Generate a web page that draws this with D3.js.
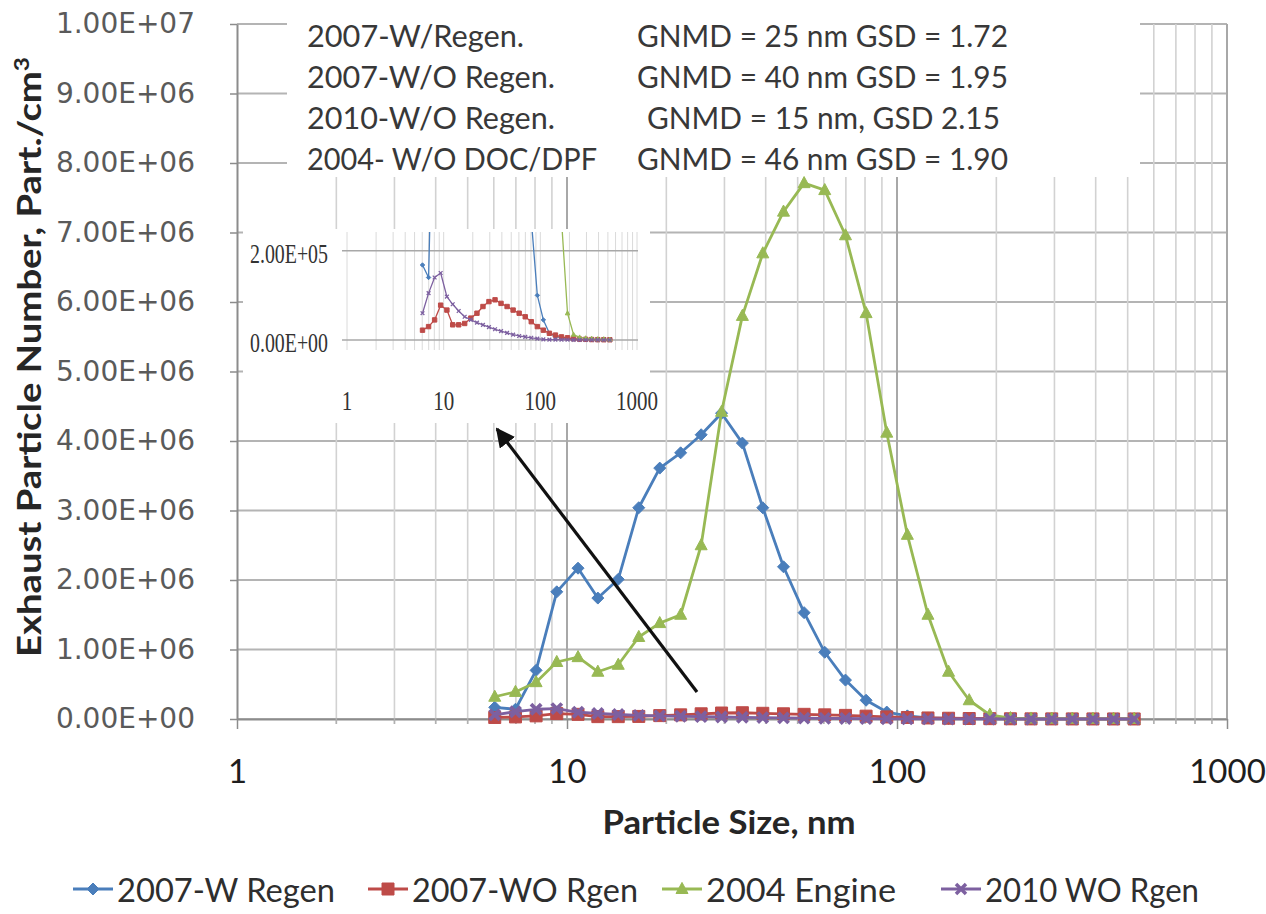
<!DOCTYPE html>
<html>
<head>
<meta charset="utf-8">
<script src="https://cdn.jsdelivr.net/npm/d3@7"></script>
<style>
  body { margin: 0; background: #fff; }
  svg { display: block; }
</style>
</head>
<body>
<svg id="chart" width="1266" height="914"></svg>
<script>
// EEPS channel mid-points, nm
const sizes = [6.04, 6.98, 8.06, 9.31, 10.8, 12.4, 14.3, 16.5, 19.1, 22.1, 25.5, 29.4, 34.0, 39.2, 45.3, 52.3,
  60.4, 69.8, 80.6, 93.1, 107.5, 124.1, 143.3, 165.5, 191.1, 220.7, 254.8, 294.3, 339.8, 392.4, 453.2, 523.3]

// particles / cm3
const wRegen2007 = [1.68e5, 1.40e5, 7.0e5, 1.83e6, 2.17e6, 1.74e6, 2.01e6, 3.04e6, 3.61e6, 3.83e6, 4.09e6, 4.40e6,
  3.97e6, 3.04e6, 2.19e6, 1.53e6, 9.6e5, 5.6e5, 2.7e5, 1.0e5, 4.5e4, 1.5e4, 8e3, 5e3, 3e3, 2e3, 1.5e3, 1e3, 1e3, 8e2, 6e2, 5e2]
const woRgen2007 = [2.2e4, 3.0e4, 4.5e4, 7.8e4, 6.7e4, 3.4e4, 3.4e4, 3.7e4, 4.9e4, 6.0e4, 7.5e4, 8.6e4, 9.0e4,
  8.2e4, 7.5e4, 6.7e4, 6.0e4, 5.2e4, 4.1e4, 3.0e4, 2.2e4, 1.5e4, 1.1e4, 7e3, 5e3, 3e3, 2e3, 1.5e3, 1e3, 8e2, 6e2, 5e2]
const engine2004 = [3.2e5, 3.9e5, 5.3e5, 8.2e5, 8.9e5, 6.8e5, 7.8e5, 1.18e6, 1.38e6, 1.50e6, 2.50e6, 4.42e6, 5.80e6,
  6.70e6, 7.30e6, 7.71e6, 7.61e6, 6.96e6, 5.84e6, 4.12e6, 2.65e6, 1.50e6, 6.8e5, 2.7e5, 6.0e4, 1.2e4, 6e3, 4e3, 3e3, 2e3, 2e3, 1e3]
const woRgen2010 = [6.0e4, 1.05e5, 1.40e5, 1.50e5, 9.7e4, 8.0e4, 6.5e4, 5.2e4, 4.5e4, 3.9e4, 3.4e4, 2.9e4, 2.4e4,
  2.0e4, 1.6e4, 1.2e4, 9e3, 7e3, 5e3, 3e3, 1.5e3, 1e3, 8e2, 6e2, 5e2, 4e2, 3e2, 3e2, 2e2, 2e2, 1e2, 1e2]

const seriesNames = ["2007-W Regen", "2007-WO Rgen", "2004 Engine", "2010 WO Rgen"]
const seriesValues = [wRegen2007, woRgen2007, engine2004, woRgen2010]

const yTickValues = d3.range(0, 11).map((k) => k * 1e6)
const xTickValues = [1, 10, 100, 1000]
const insetYTicks = [0, 2e5]

const annotLabels = ["2007-W/Regen.", "2007-W/O Regen.", "2010-W/O Regen.", "2004- W/O DOC/DPF"]
const annotStats = ["GNMD = 25 nm GSD = 1.72", "GNMD = 40 nm GSD = 1.95", "GNMD = 15 nm, GSD 2.15", "GNMD = 46 nm GSD = 1.90"]

const colors = ["#4A7EBB", "#BE4B48", "#98B954", "#7D60A0"]
const markers = ["diamond", "square", "triangle", "cross"]

const SANS = "Lato, 'Open Sans', 'DejaVu Sans', sans-serif"

const markerPath = {
  diamond: (r) => `M0,${-r}L${r},0L0,${r}L${-r},0Z`,
  square: (r) => `M${-r},${-r}H${r}V${r}H${-r}Z`,
  triangle: (r) => `M0,${-r * 1.1}L${r},${r * 0.75}L${-r},${r * 0.75}Z`,
  cross: (r) => `M${-r},${-r}L${r},${r}M${r},${-r}L${-r},${r}`,
}

function sci(v) {
  if (v === 0) return "0.00E+00"
  const e = Math.floor(Math.log10(v))
  const m = v / Math.pow(10, e)
  return `${m.toFixed(2)}E+${String(e).padStart(2, "0")}`
}

function minorLogTicks(lo, hi) {
  const out = []
  for (let dec = lo; dec < hi; dec *= 10) {
    for (let k = 2; k <= 9; k++) out.push(dec * k)
  }
  return out
}

const svg = d3.select("#chart")
svg.append("rect").attr("width", 1266).attr("height", 914).attr("fill", "#fff")

const x = d3.scaleLog().domain([1, 1000]).range([237, 1227])
const y = d3.scaleLinear().domain([0, 1e7]).range([719, 24])

// ---- main grid
const grid = svg.append("g")
grid.selectAll("line.h")
  .data(yTickValues)
  .join("line")
  .attr("x1", x(1)).attr("x2", x(1000))
  .attr("y1", (d) => y(d)).attr("y2", (d) => y(d))
  .attr("stroke", "#b4b4b4").attr("stroke-width", 2)
grid.selectAll("line.vmin")
  .data(minorLogTicks(1, 1000))
  .join("line")
  .attr("x1", (d) => x(d)).attr("x2", (d) => x(d))
  .attr("y1", y(1e7)).attr("y2", y(0) + 5)
  .attr("stroke", "#d2d2d2").attr("stroke-width", 1.6)
grid.selectAll("line.vmaj")
  .data(xTickValues.slice(1))
  .join("line")
  .attr("x1", (d) => x(d)).attr("x2", (d) => x(d))
  .attr("y1", y(1e7)).attr("y2", y(0))
  .attr("stroke", "#a8a8a8").attr("stroke-width", 2)

// ---- axes
const yAxis = svg.append("g")
  .attr("transform", `translate(${x(1)},0)`)
  .call(d3.axisLeft(y).tickValues(yTickValues).tickFormat(sci).tickSize(7).tickSizeOuter(0).tickPadding(35))
yAxis.select(".domain").attr("stroke", "#8c8c8c").attr("stroke-width", 2)
yAxis.selectAll(".tick line").attr("stroke", "#8c8c8c").attr("stroke-width", 1.5)
yAxis.selectAll(".tick text")
  .attr("font-family", "'DejaVu Sans', Verdana, sans-serif")
  .attr("font-size", 28)
  .attr("fill", "#5a5a5a")

const xAxis = svg.append("g")
  .attr("transform", `translate(0,${y(0)})`)
  .call(d3.axisBottom(x).tickValues(xTickValues).tickFormat(d3.format("d")).tickSize(10).tickSizeOuter(0).tickPadding(31))
xAxis.select(".domain").attr("stroke", "#8c8c8c").attr("stroke-width", 2)
xAxis.selectAll(".tick line").attr("stroke", "#8c8c8c").attr("stroke-width", 1.5)
xAxis.selectAll(".tick text")
  .attr("font-family", SANS)
  .attr("font-size", 33)
  .attr("fill", "#1e1e1e")
xAxis.selectAll("line.minor")
  .data(minorLogTicks(1, 1000))
  .join("line")
  .attr("class", "minor")
  .attr("x1", (d) => x(d)).attr("x2", (d) => x(d))
  .attr("y1", 0).attr("y2", 5)
  .attr("stroke", "#b0b0b0").attr("stroke-width", 1.5)

// ---- white boxes hiding the grid under the annotation and the inset
svg.append("rect").attr("x", 287).attr("y", 6).attr("width", 853).attr("height", 171).attr("fill", "#fff")
svg.append("rect").attr("x", 243).attr("y", 229).attr("width", 407).attr("height", 194).attr("fill", "#fff")

// ---- main series
function drawSeries(g, xs, ys, opts) {
  seriesValues.forEach((vals, i) => {
    const pts = vals.map((v, j) => [xs(sizes[j]), ys(v)])
    g.append("path")
      .attr("d", d3.line()(pts))
      .attr("fill", "none")
      .attr("stroke", colors[i])
      .attr("stroke-width", opts.lw)
      .attr("stroke-linejoin", "round")
    const cross = markers[i] === "cross"
    g.append("g").selectAll("path")
      .data(pts)
      .join("path")
      .attr("transform", (p) => `translate(${p[0]},${p[1]})`)
      .attr("d", markerPath[markers[i]](cross ? opts.r * 0.85 : opts.r))
      .attr("fill", cross ? "none" : colors[i])
      .attr("stroke", colors[i])
      .attr("stroke-width", cross ? opts.xw : 1)
  })
}

drawSeries(svg.append("g"), x, y, {lw: 2.8, r: 6, xw: 3.8})

// ---- annotation text
const annot = svg.append("g").attr("font-family", SANS).attr("font-size", 31).attr("fill", "#383838")
const rowY = d3.scaleLinear().domain([0, 3]).range([47, 170])
const labelLen = [217, 248, 248, 290]
const statX = [637, 637, 647, 637]
const statLen = [371, 371, 353, 371]
annotLabels.forEach((t, i) => {
  annot.append("text").attr("x", 307).attr("y", rowY(i))
    .attr("textLength", labelLen[i]).attr("lengthAdjust", "spacingAndGlyphs").text(t)
  annot.append("text").attr("x", statX[i]).attr("y", rowY(i))
    .attr("textLength", statLen[i]).attr("lengthAdjust", "spacingAndGlyphs").text(annotStats[i])
})

// ---- inset
const xi = d3.scaleLog().domain([1, 1000]).range([347, 637])
const yi = d3.scaleLinear().domain([0, 2e5]).range([340, 250.7])
const inset = svg.append("g")
svg.append("clipPath").attr("id", "insetClip")
  .append("rect").attr("x", 340).attr("y", 232).attr("width", 300).attr("height", 118)
inset.selectAll("line.v")
  .data(xTickValues.concat(minorLogTicks(1, 1000)))
  .join("line")
  .attr("x1", (d) => xi(d)).attr("x2", (d) => xi(d))
  .attr("y1", 232).attr("y2", 350)
  .attr("stroke", "#dadada").attr("stroke-width", 1)
inset.selectAll("line.h")
  .data(insetYTicks)
  .join("line")
  .attr("x1", 342).attr("x2", 638)
  .attr("y1", (d) => yi(d)).attr("y2", (d) => yi(d))
  .attr("stroke", "#a8a8a8").attr("stroke-width", 1.6)
drawSeries(inset.append("g").attr("clip-path", "url(#insetClip)"), xi, yi, {lw: 1.3, r: 2.2, xw: 1.3})
inset.selectAll("text.yl")
  .data(insetYTicks)
  .join("text")
  .attr("x", 328).attr("y", (d) => yi(d) + 3)
  .attr("text-anchor", "end").attr("dominant-baseline", "central")
  .attr("font-family", "'Liberation Serif', serif").attr("font-size", 27).attr("fill", "#333")
  .attr("textLength", 78).attr("lengthAdjust", "spacingAndGlyphs")
  .text(sci)
inset.selectAll("text.xl")
  .data(xTickValues)
  .join("text")
  .attr("x", (d) => xi(d)).attr("y", 400)
  .attr("text-anchor", "middle").attr("dominant-baseline", "central")
  .attr("font-family", "'Liberation Serif', serif").attr("font-size", 28).attr("fill", "#333")
  .attr("textLength", (d) => String(d).length * 10.5).attr("lengthAdjust", "spacingAndGlyphs")
  .text((d) => String(d))

// ---- arrow
const defs = svg.append("defs")
defs.append("marker").attr("id", "arrowHead")
  .attr("viewBox", "0 0 10 10").attr("refX", 9).attr("refY", 5)
  .attr("markerWidth", 6).attr("markerHeight", 6).attr("orient", "auto")
  .append("path").attr("d", "M0,0L10,5L0,10Z").attr("fill", "#111")
svg.append("line")
  .attr("x1", 697).attr("y1", 692).attr("x2", 497).attr("y2", 429)
  .attr("stroke", "#111").attr("stroke-width", 3.2)
  .attr("marker-end", "url(#arrowHead)")

// ---- titles
svg.append("text")
  .attr("x", 729).attr("y", 834)
  .attr("text-anchor", "middle")
  .attr("font-family", SANS).attr("font-weight", 700).attr("font-size", 33).attr("fill", "#262626")
  .attr("textLength", 253).attr("lengthAdjust", "spacingAndGlyphs")
  .text("Particle Size, nm")

const yTitle = svg.append("text")
  .attr("transform", "translate(41,357) rotate(-90)")
  .attr("text-anchor", "middle")
  .attr("font-family", SANS).attr("font-weight", 700).attr("font-size", 33).attr("fill", "#262626")
  .attr("textLength", 600).attr("lengthAdjust", "spacingAndGlyphs")
yTitle.append("tspan").text("Exhaust Particle Number, Part./cm")
yTitle.append("tspan").attr("font-size", 21).attr("dy", -12).text("3")

// ---- legend
const legendX = [93, 388, 682, 961]
const legendLen = [218, 226, 190, 214]
const legend = svg.append("g").attr("transform", "translate(0,889)")
seriesNames.forEach((name, i) => {
  const g = legend.append("g").attr("transform", `translate(${legendX[i]},0)`)
  g.append("line").attr("x1", -20).attr("x2", 20).attr("stroke", colors[i]).attr("stroke-width", 2.8)
  const cross = markers[i] === "cross"
  g.append("path").attr("d", markerPath[markers[i]](cross ? 5 : 6))
    .attr("fill", cross ? "none" : colors[i]).attr("stroke", colors[i]).attr("stroke-width", cross ? 3.5 : 1)
  g.append("text").attr("x", 24).attr("dominant-baseline", "central")
    .attr("font-family", SANS).attr("font-size", 33).attr("fill", "#2e2e2e")
    .attr("textLength", legendLen[i]).attr("lengthAdjust", "spacingAndGlyphs")
    .text(name)
})
</script>
</body>
</html>
